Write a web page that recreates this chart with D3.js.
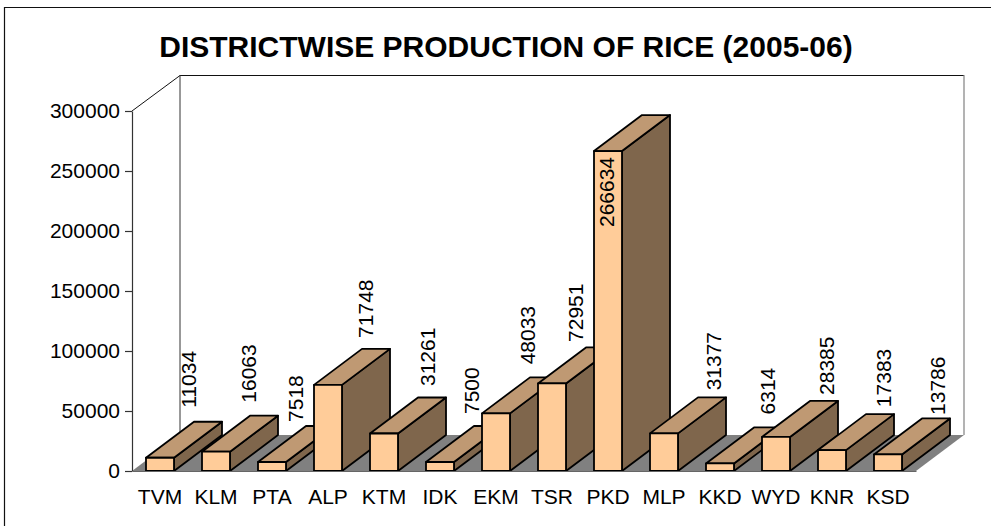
<!DOCTYPE html>
<html>
<head>
<meta charset="utf-8">
<script src="https://cdn.jsdelivr.net/npm/d3@7"></script>
<style>
  html, body { margin: 0; padding: 0; background: #fff; overflow: hidden; }
  svg { display: block; }
  text { font-family: "Liberation Sans", Arial, sans-serif; fill: #000; }
</style>
</head>
<body>
<svg id="chart"></svg>
<script>
const DISTRICTS = ["TVM", "KLM", "PTA", "ALP", "KTM", "IDK", "EKM", "TSR", "PKD", "MLP", "KKD", "WYD", "KNR", "KSD"];
const PRODUCTION = [11034, 16063, 7518, 71748, 31261, 7500, 48033, 72951, 266634, 31377, 6314, 28385, 17383, 13786];
const Y_TICKS = [0, 50000, 100000, 150000, 200000, 250000, 300000];

const SVG_W = 991;
const SVG_H = 526;
const PLOT = { left: 132, right: 916, top: 111, bottom: 471 };
const DEPTH_X = 48;
const DEPTH_Y = 36;
const BAR_W = 28;
const FONT_SIZE = 21;

const COL_FRONT = "#ffcc99";
const COL_TOP = "#bf9973";
const COL_SIDE = "#7f664c";
const COL_FLOOR = "#808080";

// label offsets from the bar centre / back top edge, the original placed them by hand
const LABEL_DX = [28, 32, 23, 37, 43, 31, 31, 23, -2, 49, 47, 50, 51, 49];
const LABEL_DY = [-14, -13, -4, -11, -11.5, -12, -13, -5.5, 112, -7, -13, -6, -7, -3.5];

const svg = d3.select("#chart").attr("width", SVG_W).attr("height", SVG_H);

const x = d3.scaleBand().domain(DISTRICTS).range([PLOT.left, PLOT.right]);
const y = d3.scaleLinear().domain([0, 300000]).range([PLOT.bottom, PLOT.top]);

const poly = (pts) => pts.map((p) => p.join(",")).join(" ");

// chart frame, only the top and left edges are inside the picture
svg.append("polyline")
  .attr("points", poly([[4.5, SVG_H], [4.5, 7.5], [SVG_W, 7.5]]))
  .attr("fill", "none").attr("stroke", "#111").attr("stroke-width", 1.2);

svg.append("text")
  .attr("x", 506).attr("y", 57)
  .attr("text-anchor", "middle")
  .attr("font-size", 30).attr("font-weight", 700)
  .text("DISTRICTWISE PRODUCTION OF RICE (2005-06)");

// walls
svg.append("polyline")
  .attr("points", poly([
    [PLOT.left, PLOT.top], [PLOT.left + DEPTH_X, PLOT.top - DEPTH_Y + 0.5],
    [PLOT.right + DEPTH_X, PLOT.top - DEPTH_Y + 0.5]
  ]))
  .attr("fill", "none").attr("stroke", "#111");
svg.append("line")
  .attr("x1", PLOT.right + DEPTH_X).attr("x2", PLOT.right + DEPTH_X)
  .attr("y1", PLOT.top - DEPTH_Y).attr("y2", PLOT.bottom - DEPTH_Y)
  .attr("stroke", "#808080").attr("stroke-width", 1.2);
svg.append("line")
  .attr("x1", PLOT.left + DEPTH_X).attr("x2", PLOT.left + DEPTH_X)
  .attr("y1", PLOT.top - DEPTH_Y).attr("y2", PLOT.bottom - DEPTH_Y)
  .attr("stroke", "#333");

// floor
svg.append("polygon")
  .attr("points", poly([
    [PLOT.left, PLOT.bottom], [PLOT.left + DEPTH_X, PLOT.bottom - DEPTH_Y],
    [PLOT.right + DEPTH_X, PLOT.bottom - DEPTH_Y], [PLOT.right, PLOT.bottom]
  ]))
  .attr("fill", COL_FLOOR);

// bars, left to right so each one covers its neighbour's side
const bars = svg.append("g").attr("stroke", "#000").attr("stroke-width", 1.8).attr("stroke-linejoin", "round");
DISTRICTS.forEach((d, i) => {
  const x0 = x(d) + (x.bandwidth() - BAR_W) / 2;
  const x1 = x0 + BAR_W;
  const yTop = y(PRODUCTION[i]);
  const yBase = y(0);
  const g = bars.append("g");
  g.append("polygon").attr("fill", COL_SIDE).attr("points", poly([
    [x1, yTop], [x1 + DEPTH_X, yTop - DEPTH_Y], [x1 + DEPTH_X, yBase - DEPTH_Y], [x1, yBase]
  ]));
  g.append("polygon").attr("fill", COL_TOP).attr("points", poly([
    [x0, yTop], [x0 + DEPTH_X, yTop - DEPTH_Y], [x1 + DEPTH_X, yTop - DEPTH_Y], [x1, yTop]
  ]));
  g.append("rect").attr("fill", COL_FRONT)
    .attr("x", x0).attr("y", yTop).attr("width", BAR_W).attr("height", yBase - yTop);
});

// axes
const yAxis = d3.axisLeft(y).tickValues(Y_TICKS).tickFormat(d3.format("d"))
  .tickSize(7).tickSizeOuter(0).tickPadding(5);
const yG = svg.append("g").attr("transform", `translate(${PLOT.left},0)`).call(yAxis);
yG.selectAll("text").attr("font-size", FONT_SIZE).attr("font-family", "Liberation Sans").attr("fill", "#000");
yG.selectAll("line, path").attr("stroke", "#333").attr("stroke-width", 1.2);

const xAxis = d3.axisBottom(x).tickSize(0).tickPadding(18);
const xG = svg.append("g").attr("transform", `translate(0,${PLOT.bottom})`).call(xAxis);
xG.select("path").attr("stroke", "#666").attr("stroke-width", 1.2);
xG.selectAll("text").attr("font-size", FONT_SIZE).attr("font-family", "Liberation Sans").attr("fill", "#000");

// value labels
const labels = svg.append("g");
DISTRICTS.forEach((d, i) => {
  const cx = x(d) + x.bandwidth() / 2;
  const lx = cx + LABEL_DX[i] + FONT_SIZE * 0.36;
  const ly = y(PRODUCTION[i]) - DEPTH_Y + LABEL_DY[i];
  labels.append("text")
    .attr("transform", `translate(${lx},${ly}) rotate(-90)`)
    .attr("font-size", FONT_SIZE)
    .text(PRODUCTION[i]);
});
</script>
</body>
</html>
